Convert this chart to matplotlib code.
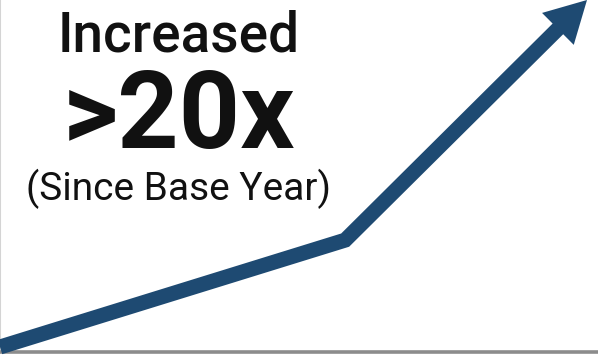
import numpy as np
import matplotlib.pyplot as plt
from matplotlib.patches import FancyArrowPatch

# growth curve, normalised (time since base year -> relative growth)
period = [0.0, 0.588, 1.0]
growth = [0.0, 0.308, 1.0]

title_top = "Increased"
title_big = ">20x"
title_sub = "(Since Base Year)"

line_color = "#1e4a72"

fig = plt.figure(figsize=(5.98, 3.57), dpi=100)
fig.patch.set_facecolor("white")
ax = fig.add_axes([0, 5 / 357, 1, 352 / 357])
ax.set_xlim(0, 598 / 587)
ax.set_ylim(-5 / 347, 1.0)
ax.set_xticks([])
ax.set_yticks([])
for s in ["top", "right"]:
    ax.spines[s].set_visible(False)
ax.spines["bottom"].set_color("#8c8c8c")
ax.spines["bottom"].set_linewidth(2.6)
ax.spines["left"].set_color("#d4d4d4")
ax.spines["left"].set_linewidth(1.5)

lw_px = 15
px = 72 / fig.dpi

# shaft: stop a bit before the tip so the head covers the end
fig.canvas.draw()
tr = ax.transData
p1 = tr.transform((period[1], growth[1]))
p2 = tr.transform((period[2], growth[2]))
d = p2 - p1
head_len = 41
end = p2 - d / np.linalg.norm(d) * head_len * 0.8
end_data = tr.inverted().transform(end)

ax.plot([period[0], period[1], end_data[0]], [growth[0], growth[1], end_data[1]],
        color=line_color, lw=lw_px * px, solid_joinstyle="miter",
        solid_capstyle="butt", clip_on=False, zorder=3)

ms = 10
arrow = FancyArrowPatch(
    (end_data[0], end_data[1]), (period[2], growth[2]),
    arrowstyle=f"simple,tail_width={lw_px * px / ms},head_width={45 * px / ms},head_length={head_len * px / ms}",
    mutation_scale=ms, shrinkA=0, shrinkB=0, color=line_color,
    clip_on=False, zorder=4, lw=0)
ax.add_patch(arrow)

cx = 179 / 598
fig.text(cx, 1 - 52 / 357, title_top, ha="center", va="baseline",
         fontsize=39.5, fontfamily="Roboto", fontweight="medium", color="#111111")
fig.text(cx, 1 - 148 / 357, title_big, ha="center", va="baseline",
         fontsize=77, fontfamily="Roboto", fontweight="bold", color="#111111")
fig.text(cx, 1 - 200 / 357, title_sub, ha="center", va="baseline",
         fontsize=28, fontfamily="Roboto", fontweight="normal", color="#111111")

fig.savefig("out.png", dpi=100, facecolor="white")
